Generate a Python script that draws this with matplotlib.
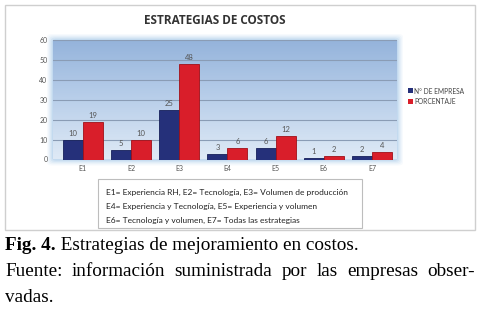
import matplotlib
matplotlib.use("Agg")
import matplotlib.pyplot as plt
import numpy as np
from matplotlib.patches import Rectangle, FancyBboxPatch
from matplotlib.colors import LinearSegmentedColormap

categories = ["E1", "E2", "E3", "E4", "E5", "E6", "E7"]
n_empresa = [10, 5, 25, 3, 6, 1, 2]
porcentaje = [19, 10, 48, 6, 12, 2, 4]
series_names = ["N° DE EMPRESA", "PORCENTAJE"]
yticks = [0, 10, 20, 30, 40, 50, 60]
title = "ESTRATEGIAS DE COSTOS"
note_lines = [
    "E1= Experiencia RH, E2= Tecnología, E3= Volumen de producción",
    "E4= Experiencia y Tecnología, E5= Experiencia y volumen",
    "E6= Tecnología y volumen, E7= Todas las estrategias",
]
caption_bold = "Fig. 4."
caption_rest = " Estrategias de mejoramiento en costos."
source_line2 = "Fuente: información suministrada por las empresas obser-"
source_line3 = "vadas."

W, H = 485, 313
fig = plt.figure(figsize=(W / 100, H / 100), dpi=100)
fig.patch.set_facecolor("white")

def fx(x):
    return x / W

def fy(y):
    return 1 - y / H

# outer frame
fig.patches.append(Rectangle((fx(5), fy(230)), fx(470), 225 / H, transform=fig.transFigure,
                             facecolor="white", edgecolor="#cfcfcf", lw=1.0, zorder=-2))

# glow around plot area
L, R, T, B = 53, 397, 40, 159.5
for i, a in enumerate([0.06, 0.08, 0.10, 0.14, 0.18]):
    pad = 6 - i * 1.2
    fig.patches.append(FancyBboxPatch((fx(L - pad), fy(B + pad)), fx(R - L + 2 * pad), (B - T + 2 * pad) / H,
                                      boxstyle="round,pad=0,rounding_size=0.01", transform=fig.transFigure,
                                      facecolor="#7fb0e0", edgecolor="none", alpha=a, zorder=-1))

ax = fig.add_axes([fx(L), fy(B), fx(R - L), (B - T) / H])
ax.set_zorder(2)
ax.patch.set_alpha(0)
ax.set_xlim(-0.62, 6.52)
ax.set_ylim(0, 60)
cmap = LinearSegmentedColormap.from_list("bg", ["#dfeaf6", "#b9cfea", "#94b3db"])
grad = np.linspace(0, 1, 256).reshape(-1, 1)
ax.imshow(grad, aspect="auto", cmap=cmap, extent=[-0.62, 6.52, 0, 60], origin="lower", zorder=0)

for y in yticks[1:]:
    ax.axhline(y, color="#8a9cb5", lw=0.8, zorder=1)

x = np.arange(len(categories))
w = 0.415
b1 = ax.bar(x - w / 2, n_empresa, w, color="#25307a", edgecolor="#16205a", lw=0.6, zorder=3, label=series_names[0])
b2 = ax.bar(x + w / 2, porcentaje, w, color="#d91e2a", edgecolor="#a01018", lw=0.6, zorder=3, label=series_names[1])
for rects, vals in ((b1, n_empresa), (b2, porcentaje)):
    for r, v in zip(rects, vals):
        ax.text(r.get_x() + r.get_width() / 2, v + 1.5, str(v), ha="center", va="bottom",
                fontsize=5.5, color="#555555", family="Lato", zorder=4)

ax.set_yticks(yticks)
ax.set_xticks(x)
ax.set_xticklabels(categories)
ax.tick_params(axis="both", length=0, labelsize=5, labelcolor="#555555", pad=4)
for lab in ax.get_xticklabels() + ax.get_yticklabels():
    lab.set_family("Lato")
for s in ax.spines.values():
    s.set_visible(False)

fig.text(fx(215), fy(20), title, ha="center", va="center", fontsize=8.5, fontweight="bold",
         family="Open Sans", color="#333333")

# legend
for i, (name, col) in enumerate(zip(series_names, ["#25307a", "#d91e2a"])):
    yy = 91 + i * 10
    fig.patches.append(Rectangle((fx(408), fy(yy + 2.5)), fx(5), 5 / H, transform=fig.transFigure,
                                 facecolor=col, edgecolor="none"))
    fig.text(fx(414), fy(yy), name, ha="left", va="center", fontsize=4.8, family="Lato", color="#444444")

# note box
fig.patches.append(Rectangle((fx(98), fy(228)), fx(264), 49 / H, transform=fig.transFigure,
                             facecolor="white", edgecolor="#bdbdbd", lw=0.8, zorder=1))
for i, line in enumerate(note_lines):
    fig.text(fx(106), fy(192 + i * 14), line, ha="left", va="center", fontsize=6.05,
             family="Lato", color="#222222", zorder=2)

# caption
cap_fs = 13.8
t1 = fig.text(fx(5), fy(245), caption_bold, ha="left", va="center", fontsize=cap_fs,
              family="Liberation Serif", fontweight="bold", color="black")
fig.canvas.draw()
r = fig.canvas.get_renderer()
bb = t1.get_window_extent(r)
fig.text(bb.x1 / W, fy(245), caption_rest, ha="left", va="center", fontsize=cap_fs,
         family="Liberation Serif", color="black")

# justified line
words = source_line2.split(" ")
left, right = 5, 475
tmp = [fig.text(0, 0, wd, fontsize=cap_fs, family="Liberation Serif") for wd in words]
fig.canvas.draw()
widths = [t.get_window_extent(r).width for t in tmp]
for t in tmp:
    t.remove()
gap = (right - left - sum(widths)) / (len(words) - 1)
xx = left
for wd, wdt in zip(words, widths):
    fig.text(fx(xx), fy(272), wd, ha="left", va="center", fontsize=cap_fs,
             family="Liberation Serif", color="black")
    xx += wdt + gap
fig.text(fx(5), fy(298), source_line3, ha="left", va="center", fontsize=cap_fs,
         family="Liberation Serif", color="black")

fig.savefig("out.png", dpi=100, facecolor="white")
